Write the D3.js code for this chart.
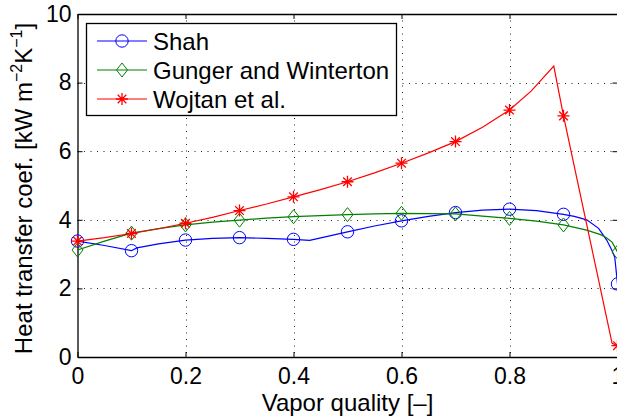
<!DOCTYPE html>
<html>
<head>
<meta charset="utf-8">
<script src="https://cdn.jsdelivr.net/npm/d3@7"></script>
<style>
  body { margin: 0; background: #fff; }
  svg { display: block; font-family: "Liberation Sans", Arial, sans-serif; }
</style>
</head>
<body>
<div id="chart"></div>
<script>
// Tick values
const xTicks = [0, 0.2, 0.4, 0.6, 0.8, 1];
const yTicks = [0, 2, 4, 6, 8, 10];

// Marker positions (vapor quality)
const quality = [0, 0.1, 0.2, 0.3, 0.4, 0.5, 0.6, 0.7, 0.8, 0.9, 1];
const shahMarkers = [3.38, 3.10, 3.41, 3.48, 3.43, 3.65, 3.97, 4.21, 4.31, 4.16, 2.13];
const gungerMarkers = [3.12, 3.61, 3.85, 3.99, 4.09, 4.15, 4.19, 4.17, 4.04, 3.85, 3.06];
const wojtanMarkers = [3.38, 3.60, 3.90, 4.27, 4.67, 5.11, 5.65, 6.28, 7.20, 7.03, 0.33];

// Curves [quality, h]
const shahCurve = [[0, 3.38], [0.05, 3.25], [0.1, 3.10], [0.11, 3.18], [0.15, 3.30], [0.2, 3.41],
  [0.25, 3.46], [0.3, 3.48], [0.35, 3.46], [0.4, 3.43], [0.43, 3.40], [0.5, 3.65], [0.55, 3.82],
  [0.6, 3.97], [0.65, 4.10], [0.7, 4.21], [0.75, 4.28], [0.8, 4.31], [0.85, 4.27], [0.9, 4.16],
  [0.92, 4.10], [0.943, 4.0], [0.965, 3.75], [0.98, 3.41], [0.99, 3.1], [0.995, 2.9], [1, 2.13]];
const gungerCurve = [[0, 3.12], [0.05, 3.38], [0.1, 3.61], [0.15, 3.74], [0.2, 3.85], [0.25, 3.93],
  [0.3, 3.99], [0.35, 4.05], [0.4, 4.09], [0.45, 4.12], [0.5, 4.15], [0.55, 4.17], [0.6, 4.19],
  [0.65, 4.18], [0.7, 4.17], [0.75, 4.11], [0.8, 4.04], [0.85, 3.96], [0.9, 3.85], [0.943, 3.70],
  [0.97, 3.56], [0.98, 3.47], [0.99, 3.35], [1, 3.06]];
const wojtanCurve = [[0, 3.38], [0.05, 3.48], [0.1, 3.60], [0.15, 3.74], [0.2, 3.90], [0.25, 4.07],
  [0.3, 4.27], [0.35, 4.46], [0.4, 4.67], [0.45, 4.88], [0.5, 5.11], [0.55, 5.37], [0.6, 5.65],
  [0.65, 5.95], [0.7, 6.28], [0.75, 6.70], [0.8, 7.20], [0.84, 7.75], [0.882, 8.48], [0.9, 7.03],
  [0.99, 0.40], [1, 0.33]];

const width = 617;
const height = 419;
const marginTop = 14;
const marginBottom = 62;
const marginLeft = 77.5;
const plotRight = 617.5;

const x = d3.scaleLinear([0, 1], [marginLeft, plotRight]);
const y = d3.scaleLinear([0, 10], [height - marginBottom, marginTop]);

const svg = d3.create("svg").attr("width", width).attr("height", height);

// Grid lines (dotted)
const grid = svg.append("g").attr("stroke", "#222").attr("stroke-width", 1).attr("stroke-dasharray", "1,5.5");
grid.selectAll(".gx").data(xTicks.slice(1, -1)).join("line")
  .attr("x1", (d) => Math.round(x(d)) + 0.5).attr("x2", (d) => Math.round(x(d)) + 0.5)
  .attr("y1", y(10)).attr("y2", y(0));
grid.selectAll(".gy").data(yTicks.slice(1, -1)).join("line")
  .attr("y1", (d) => Math.round(y(d)) + 0.5).attr("y2", (d) => Math.round(y(d)) + 0.5)
  .attr("x1", x(0)).attr("x2", x(1));

// Axes with inward ticks
svg.append("g")
  .attr("transform", `translate(0,${y(0)})`)
  .call(d3.axisBottom(x).tickValues(xTicks).tickFormat(d3.format("")).tickSizeInner(-5).tickSizeOuter(0).tickPadding(11))
  .call((g) => g.selectAll("text").attr("font-size", 23).attr("fill", "#000"))
  .call((g) => g.select(".domain").attr("stroke-width", 1.3));
svg.append("g")
  .attr("transform", `translate(${x(0)},0)`)
  .call(d3.axisLeft(y).tickValues(yTicks).tickSizeInner(-5).tickSizeOuter(0).tickPadding(6))
  .call((g) => g.selectAll("text").attr("font-size", 23).attr("fill", "#000"))
  .call((g) => g.select(".domain").attr("stroke-width", 1.3));
svg.append("g")
  .attr("transform", `translate(0,${y(10)})`)
  .call(d3.axisTop(x).tickValues(xTicks).tickSizeInner(-5).tickSizeOuter(0).tickFormat(""))
  .call((g) => g.select(".domain").attr("stroke-width", 1.3));
svg.append("g")
  .attr("transform", `translate(${x(1)},0)`)
  .call(d3.axisRight(y).tickValues(yTicks).tickSizeInner(-5).tickSizeOuter(0).tickFormat(""));

// Axis labels
svg.append("text")
  .attr("x", x(0.5)).attr("y", 411)
  .attr("text-anchor", "middle").attr("font-size", 24)
  .text("Vapor quality [\u2013]");

const yl = svg.append("text")
  .attr("transform", `translate(32,${(y(0) + y(10)) / 2 + 3}) rotate(-90)`)
  .attr("text-anchor", "middle").attr("font-size", 24);
yl.append("tspan").text("Heat transfer coef. [kW m");
yl.append("tspan").attr("font-size", 16).attr("dy", -10).text("\u22122");
yl.append("tspan").attr("dy", 10).text("K");
yl.append("tspan").attr("font-size", 16).attr("dy", -10).text("\u22121");
yl.append("tspan").attr("dy", 10).text("]");

// Series
const line = d3.line().x((d) => x(d[0])).y((d) => y(d[1]));

const series = [
  { name: "Shah", color: "#0000ff", curve: shahCurve, marks: shahMarkers, marker: "circle" },
  { name: "Gunger and Winterton", color: "#008000", curve: gungerCurve, marks: gungerMarkers, marker: "diamond" },
  { name: "Wojtan et al.", color: "#ff0000", curve: wojtanCurve, marks: wojtanMarkers, marker: "star" },
];

function drawMarker(g, type, color) {
  if (type === "circle") {
    g.append("circle").attr("r", 6.2).attr("fill", "none").attr("stroke", color).attr("stroke-width", 1);
  } else if (type === "diamond") {
    g.append("path").attr("d", "M0,-7L5.5,0L0,7L-5.5,0Z").attr("fill", "none").attr("stroke", color).attr("stroke-width", 1);
  } else {
    g.append("path").attr("d", "M-6,0H6M0,-6V6M-4.3,-4.3L4.3,4.3M-4.3,4.3L4.3,-4.3")
      .attr("fill", "none").attr("stroke", color).attr("stroke-width", 1.3);
  }
}

series.forEach((s) => {
  svg.append("path").attr("d", line(s.curve)).attr("fill", "none").attr("stroke", s.color).attr("stroke-width", 1.2);
  s.marks.forEach((v, i) => {
    const g = svg.append("g").attr("transform", `translate(${x(quality[i])},${y(v)})`);
    drawMarker(g, s.marker, s.color);
  });
});

// Legend
const legend = svg.append("g");
legend.append("rect").attr("x", 86.5).attr("y", 23.5).attr("width", 310).attr("height", 92)
  .attr("fill", "#fff").attr("stroke", "#000").attr("stroke-width", 1.3);
series.forEach((s, i) => {
  const cy = 41 + i * 29;
  legend.append("line").attr("x1", 97).attr("x2", 147).attr("y1", cy).attr("y2", cy)
    .attr("stroke", s.color).attr("stroke-width", 1.2);
  drawMarker(legend.append("g").attr("transform", `translate(122,${cy})`), s.marker, s.color);
  legend.append("text").attr("x", 153).attr("y", cy + 8.5).attr("font-size", 24).text(s.name);
});

d3.select("#chart").node().appendChild(svg.node());
</script>
</body>
</html>
